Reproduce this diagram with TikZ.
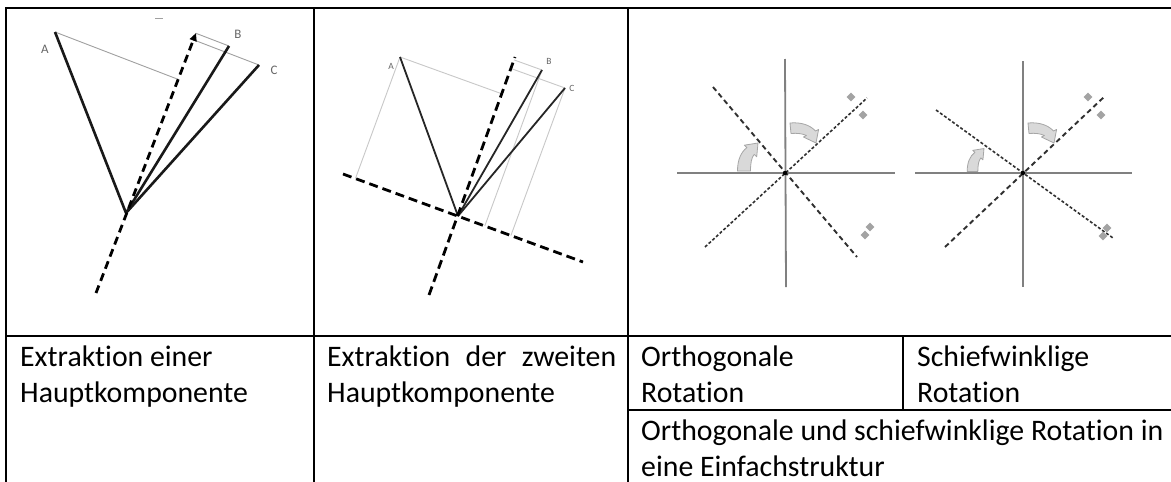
\documentclass[tikz,border=0pt]{standalone}
\usepackage{fontspec}
\setmainfont{Carlito}[Ligatures=NoCommon]
\usetikzlibrary{shapes.geometric,arrows.meta,calc}
\definecolor{projdark}{HTML}{A0A0A0}
\definecolor{projlight}{HTML}{C8C8C8}
\definecolor{axgray}{HTML}{808080}
\definecolor{dashgray}{HTML}{303030}
\definecolor{markgray}{HTML}{A3A3A3}
\definecolor{arrfill}{HTML}{D9D9D9}
\definecolor{arrline}{HTML}{A6A6A6}
\definecolor{lblgray}{HTML}{666666}
\begin{document}
\begin{tikzpicture}[x=1pt,y=-1pt,
  tbl/.style={line width=2.4pt,black},
  vecone/.style={line width=2.6pt,black!90},
  vectwo/.style={line width=1.8pt,black!85},
  axisdash/.style={line width=2.8pt,black,dash pattern=on 8pt off 5pt},
  projone/.style={line width=0.9pt,projdark},
  projtwo/.style={line width=0.9pt,projlight},
  grayaxis/.style={line width=1.8pt,axgray},
  finedash/.style={line width=1.6pt,dashgray,dash pattern=on 3pt off 2pt},
  coarsedash/.style={line width=1.9pt,dashgray,dash pattern=on 5pt off 3.5pt},
  ptmark/.style={diamond,fill=markgray,draw=none,minimum size=9pt,inner sep=0pt},
  lblone/.style={font=\fontsize{13}{13}\selectfont,text=lblgray,inner sep=0pt},
  lbltwo/.style={font=\fontsize{9.5}{9.5}\selectfont,text=lblgray,inner sep=0pt},
  cell/.style={font=\fontsize{29.8}{36}\selectfont,anchor=base west,inner sep=0pt},
  rotarrow/.style={fill=arrfill,draw=arrline,line width=0.8pt,line join=round},
  lowarrow/.pic={\path[rotarrow] (-6.5,0) .. controls (-6.5,-11) and (-3,-19) .. (2.9,-23.4)
      -- (0.3,-25.8) -- (14,-28) -- (12.7,-14.2) -- (10.2,-16.6)
      .. controls (7.5,-13.5) and (6.5,-8) .. (6.5,0) -- cycle;},
  higharrow/.pic={\path[rotarrow] (5,-50) .. controls (16,-51) and (25,-48) .. (30.5,-42)
      -- (33.6,-43.6) -- (31,-30) -- (18.4,-36) -- (21.5,-37.5)
      .. controls (17,-39.5) and (12,-40) .. (6,-39.5) -- cycle;}
]
\useasboundingbox (0,0) rectangle (1171,482);
\fill[white] (0,0) rectangle (1171,482);

% ---------- table ----------
\coordinate (tl) at (6,8);
\coordinate (bl) at (6,482);
\coordinate (tr) at (1171,8);
\coordinate (ml) at (6,336);
\coordinate (mr) at (1171,336);
\coordinate (v1t) at (314,8);
\coordinate (v1b) at (314,482);
\coordinate (v2t) at (628,8);
\coordinate (v2b) at (628,482);
\coordinate (v3t) at (903,336);
\coordinate (v3b) at (903,410);
\coordinate (hl) at (628,410);
\coordinate (hr) at (1171,410);
\draw[tbl] (bl) -- (tl) -- (tr);
\draw[tbl] (ml) -- (mr);
\draw[tbl] (v1t) -- (v1b);
\draw[tbl] (v2t) -- (v2b);
\draw[tbl] (v3t) -- (v3b);
\draw[tbl] (hl) -- (hr);

% ---------- texts ----------
\node[cell] (t1a) at (20,366) {Extraktion einer};
\node[cell] (t1b) at (20,402) {Hauptkomponente};
\node[cell] (t2a) at (327,366) {\hbox to 289pt{Extraktion\hfill der\hfill zweiten}};
\node[cell] (t2b) at (327,402) {Hauptkomponente};
\node[cell] (t3a) at (641,366) {Orthogonale};
\node[cell] (t3b) at (641,402) {Rotation};
\node[cell] (t4a) at (917,366) {Schiefwinklige};
\node[cell] (t4b) at (917,402) {Rotation};
\node[cell] (t5a) at (641,440) {Orthogonale und schiefwinklige Rotation in};
\node[cell] (t5b) at (641,476) {eine Einfachstruktur};

% ---------- panel 1 ----------
\coordinate (pA) at (55,32);
\coordinate (pO) at (126,213);
\coordinate (pB) at (229,46);
\coordinate (pC) at (259,65);
\coordinate (pS) at (96,293);
\coordinate (pT) at (196,33);
\coordinate (artL) at (155,18);
\coordinate (artR) at (163,18);
\draw[line width=0.8pt,projdark] (artL) -- (artR);
\draw[projone] (pA) -- ($(pS)!(pA)!(pT)$);
\draw[projone] (pB) -- ($(pS)!(pB)!(pT)$);
\draw[projone] (pC) -- ($(pS)!(pC)!(pT)$);
\draw[vecone] (pO) -- (pA);
\draw[vecone] (pO) -- (pB);
\draw[vecone] (pO) -- (pC);
\draw[axisdash,-{Triangle[length=8pt,width=7pt]}] (pS) -- (pT);
\node[lblone] (lA1) at (45,49) {A};
\node[lblone] (lB1) at (238,34) {B};
\node[lblone] (lC1) at (274,70) {C};

% ---------- panel 2 ----------
\coordinate (qA) at (400,57);
\coordinate (qO) at (458,216);
\coordinate (qB) at (542,70);
\coordinate (qC) at (565,88);
\coordinate (qS1) at (429,295);
\coordinate (qT1) at (515,57);
\coordinate (qS2) at (343,174);
\coordinate (qT2) at (583,262);
\foreach \p in {qA,qB,qC}{
  \draw[projtwo] (\p) -- ($(qS1)!(\p)!(qT1)$);
  \draw[projtwo] (\p) -- ($(qS2)!(\p)!(qT2)$);
}
\draw[vectwo] (qO) -- (qA);
\draw[vectwo] (qO) -- (qB);
\draw[vectwo] (qO) -- (qC);
\draw[axisdash,dash pattern=on 9pt off 5pt] (qS1) -- (qT1);
\draw[axisdash,dash pattern=on 9pt off 5pt] (qS2) -- (qT2);
\node[lbltwo] (lA2) at (391,66) {A};
\node[lbltwo] (lB2) at (549,61) {B};
\node[lbltwo] (lC2) at (572,88) {C};

% ---------- panel 3 ----------
\coordinate (rO) at (785,173);
\coordinate (rHl) at (677,173);
\coordinate (rHr) at (895,173);
\coordinate (rVt) at (785,59);
\coordinate (rVb) at (786,287);
\coordinate (rD1s) at (705,247);
\coordinate (rD1e) at (867,98);
\coordinate (rD2s) at (713,87);
\coordinate (rD2e) at (857,257);
\draw[grayaxis] (rHl) -- (rHr);
\draw[grayaxis] (rVt) -- (rVb);
\draw[finedash] (rD1s) -- (rD1e);
\draw[coarsedash] (rD2s) -- (rD2e);
\fill[black] (rO) circle (2.2pt);
\node[ptmark] (r1) at (851,97) {};
\node[ptmark] (r2) at (863,115) {};
\node[ptmark] (r3) at (870,227) {};
\node[ptmark] (r4) at (865,235) {};
\pic at (744,171) {lowarrow};
\pic at (rO) {higharrow};

% ---------- panel 4 ----------
\coordinate (sO) at (1023,173);
\coordinate (sHl) at (915,173);
\coordinate (sHr) at (1132,173);
\coordinate (sVt) at (1023,61);
\coordinate (sVb) at (1023,287);
\coordinate (sD1s) at (945,247);
\coordinate (sD1e) at (1104,97);
\coordinate (sD2s) at (936,110);
\coordinate (sD2e) at (1113,238);
\draw[grayaxis] (sHl) -- (sHr);
\draw[grayaxis] (sVt) -- (sVb);
\draw[coarsedash] (sD1s) -- (sD1e);
\draw[finedash] (sD2s) -- (sD2e);
\fill[black] (sO) circle (2.2pt);
\node[ptmark] (s1) at (1088,97) {};
\node[ptmark] (s2) at (1101,115) {};
\node[ptmark] (s3) at (1107,228) {};
\node[ptmark] (s4) at (1103,236) {};
\pic[scale=0.82] at (972.5,171.5) {lowarrow};
\pic at (sO) {higharrow};
\end{tikzpicture}
\end{document}
